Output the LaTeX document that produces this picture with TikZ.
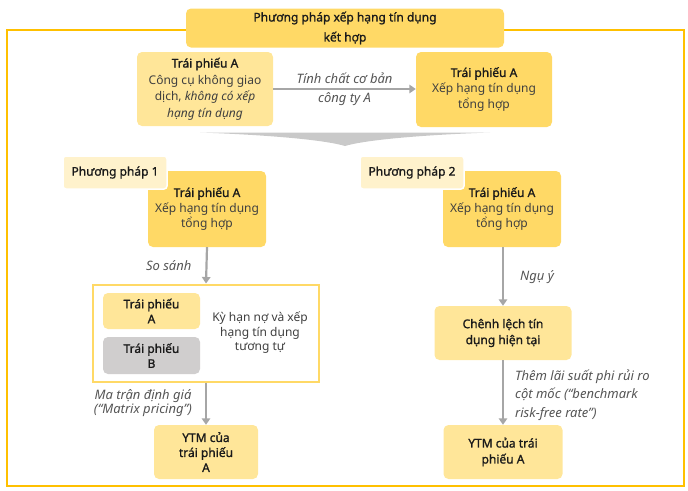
\documentclass[tikz,border=0pt]{standalone}
\usepackage{fontspec}
\setmainfont{Noto Sans}
\newfontfamily\medf[FakeBold=1.2]{Noto Sans}
\usetikzlibrary{arrows.meta}
\definecolor{frameY}{HTML}{FFC000}
\definecolor{darkY}{HTML}{FFD966}
\definecolor{lightY}{HTML}{FFE699}
\definecolor{paleY}{HTML}{FFF2CC}
\definecolor{greyB}{HTML}{D0CECE}
\definecolor{arrowG}{HTML}{A6A6A6}
\definecolor{chevG}{HTML}{C9C9C9}
\definecolor{bodyc}{HTML}{3F3F3F}
\definecolor{medc}{HTML}{1A1A1A}
\definecolor{labc}{HTML}{555555}
\begin{document}
\begin{tikzpicture}[x=1pt,y=-1pt,
  box/.style={rectangle, rounded corners=5pt, inner sep=1pt, align=center, text=bodyc,
    font=\fontsize{12}{15.5}\selectfont},
  tag/.style={rectangle, rounded corners=3pt, inner sep=1pt, align=center, text=medc,
    fill=paleY, draw=white, line width=1.5pt, font=\medf\fontsize{12}{15}\selectfont},
  garrow/.style={draw=arrowG, line width=2.2pt, -{Triangle[length=6.5pt,width=8.5pt]}},
  lab/.style={align=center, text=labc, font=\itshape\fontsize{13}{15}\selectfont, inner sep=0pt}
]
\useasboundingbox (0,0) rectangle (688,490);
% outer frame
\draw[frameY, line width=2pt] (7,30) rectangle (684,486);
% title
\node[box, fill=darkY, minimum width=318pt, minimum height=39pt, text=medc,
  font=\medf\fontsize{12}{20}\selectfont] (title) at (345,28)
  {Phương pháp xếp hạng tín dụng\\kết hợp};
% top row
\node[box, fill=lightY, minimum width=136pt, minimum height=74pt,
  font=\fontsize{12}{16.6}\selectfont] (tl) at (205,89)
  {{\medf\color{medc}Trái phiếu A}\\Công cụ không giao\\dịch, \textit{không có xếp}\\\textit{hạng tín dụng}};
\node[box, fill=darkY, minimum width=136pt, minimum height=75pt,
  font=\fontsize{12}{16}\selectfont] (tr) at (484,89.5)
  {{\medf\color{medc}Trái phiếu A}\\Xếp hạng tín dụng\\tổng hợp};
\draw[garrow] (tl.east |- 0,89) -- (tr.west |- 0,89)
  node[lab, midway, font=\itshape\fontsize{13}{19}\selectfont] (lbl0) {Tính chất cơ bản\\công ty A};
% grey chevron
\fill[chevG] (200,132.5) -- (490,132.5)
  .. controls (420,135) and (365,140) .. (345,146)
  .. controls (325,140) and (270,135) .. (200,132.5) -- cycle;
% method 1
\node[box, fill=darkY, minimum width=118pt, minimum height=76pt] (m1) at (207,209)
  {{\medf\color{medc}Trái phiếu A}\\Xếp hạng tín dụng\\tổng hợp};
\node[tag, minimum width=104pt, minimum height=33pt] (p1) at (115,172.5) {Phương pháp 1};
% comparison frame
\node[rectangle, draw=darkY, line width=2pt, fill=white, minimum width=226pt, minimum height=97pt] (cmp) at (206,333) {};
\node[box, fill=lightY, minimum width=97pt, minimum height=36pt, text=medc,
  font=\medf\fontsize{12}{15}\selectfont] (ia) at (151.5,311) {Trái phiếu\\A};
\node[box, fill=greyB, minimum width=97pt, minimum height=37pt, text=medc,
  font=\medf\fontsize{12}{15}\selectfont] (ib) at (151.5,355.5) {Trái phiếu\\B};
\node[box, font=\fontsize{12}{14.5}\selectfont] (sim) at (260,333) {Kỳ hạn nợ và xếp\\hạng tín dụng\\tương tự};
\draw[garrow] (m1.south) -- (cmp.north) node[lab, midway, left=14pt] (lbl1) {So sánh};
% ytm 1
\node[box, fill=lightY, minimum width=104pt, minimum height=54pt, text=medc,
  font=\medf\fontsize{12}{15}\selectfont] (ytm1) at (206,452) {YTM của\\trái phiếu\\A};
\draw[garrow] (cmp.south) -- (ytm1.north);
\node[lab, font=\itshape\fontsize{13}{14.5}\selectfont] (lbl2) at (143,403) {Ma trận định giá\\(“Matrix pricing”)};
% method 2
\node[box, fill=darkY, minimum width=118pt, minimum height=76pt] (m2) at (502,209)
  {{\medf\color{medc}Trái phiếu A}\\Xếp hạng tín dụng\\tổng hợp};
\node[tag, minimum width=104pt, minimum height=33pt] (p2) at (412,172.5) {Phương pháp 2};
\node[box, fill=lightY, minimum width=137pt, minimum height=54pt, text=medc,
  font=\medf\fontsize{12}{16}\selectfont] (ch) at (503,333) {Chênh lệch tín\\dụng hiện tại};
\draw[garrow] (m2.south -| ch.north) -- (ch.north);
\node[lab] (lbl3) at (537,277) {Ngụ ý};
\node[box, fill=lightY, minimum width=119pt, minimum height=54pt, text=medc,
  font=\medf\fontsize{12}{16}\selectfont] (ytm2) at (503,452) {YTM của trái\\phiếu A};
\draw[garrow] (ch.south) -- (ytm2.north);
\node[lab, align=left, anchor=west, font=\itshape\fontsize{13}{18.5}\selectfont] (lbl4) at (515,395)
  {Thêm lãi suất phi rủi ro\\cột mốc (“benchmark\\risk-free rate”)};
\end{tikzpicture}
\end{document}
